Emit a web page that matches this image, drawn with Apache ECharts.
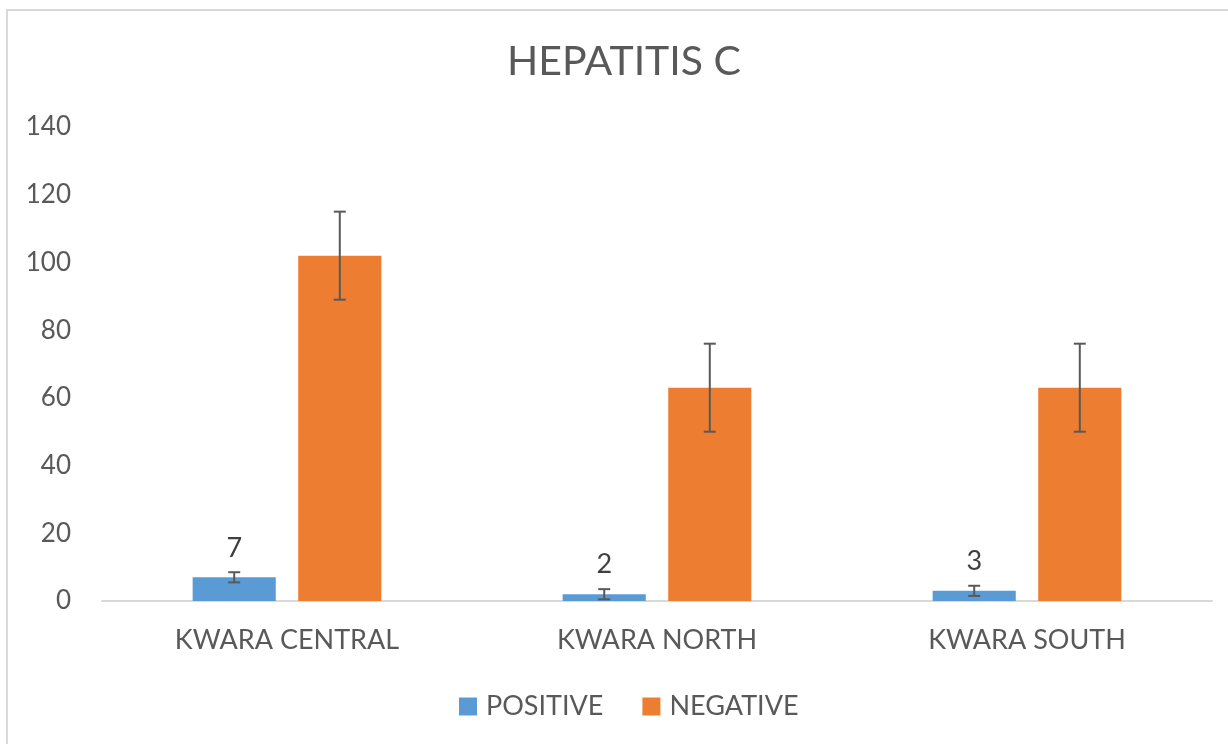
<!DOCTYPE html>
<html>
<head>
<meta charset="utf-8">
<script src="https://cdn.jsdelivr.net/npm/echarts@6/dist/echarts.min.js"></script>
<style>
  html, body { margin: 0; padding: 0; background: #ffffff; }
  #chart { width: 1228px; height: 744px; }
</style>
</head>
<body>
<div id="chart"></div>
<script>
// ---- data ----
const titleText = 'HEPATITIS C';
const categories = ['KWARA CENTRAL', 'KWARA NORTH', 'KWARA SOUTH'];
const seriesNames = ['POSITIVE', 'NEGATIVE'];
const positiveValues = [7, 2, 3];
const negativeValues = [102, 63, 63];
const positiveErrors = [1.5, 1.5, 1.5];
const negativeErrors = [13, 13, 13];
const yTicks = [0, 20, 40, 60, 80, 100, 120, 140];

// ---- style ----
const FONT = 'Lato';
const BLUE = '#5B9BD5';
const ORANGE = '#ED7D31';
const TEXT = '#595959';
const CAT_GAP = 0.49;   // barCategoryGap fraction
const BAR_GAP = 0.27;   // barGap fraction

function errData(values, errs, idx) {
  return values.map((v, i) => [i, v - errs[i], v + errs[i], idx]);
}

function renderErr(params, api) {
  const ci = api.value(0);
  const lo = api.coord([ci, api.value(1)]);
  const hi = api.coord([ci, api.value(2)]);
  const si = api.value(3);
  const band = api.size([1, 0])[0];
  const avail = band * (1 - CAT_GAP);
  const bw = avail / (2 + BAR_GAP);
  const start = -avail / 2;
  const cx = lo[0] + start + si * bw * (1 + BAR_GAP) + bw / 2;
  const cap = 6;
  const style = { stroke: '#595959', lineWidth: 2 };
  return {
    type: 'group',
    children: [
      { type: 'line', shape: { x1: cx, y1: lo[1], x2: cx, y2: hi[1] }, style },
      { type: 'line', shape: { x1: cx - cap, y1: lo[1], x2: cx + cap, y2: lo[1] }, style },
      { type: 'line', shape: { x1: cx - cap, y1: hi[1], x2: cx + cap, y2: hi[1] }, style }
    ]
  };
}

const chart = echarts.init(document.getElementById('chart'), null, { renderer: 'canvas' });
chart.setOption({
  backgroundColor: '#ffffff',
  animation: false,
  graphic: [{
    type: 'rect',
    shape: { x: 7, y: 10, width: 1300, height: 800 },
    style: { fill: 'none', stroke: '#d9d9d9', lineWidth: 2 },
    z: 0
  }],
  title: {
    text: titleText,
    left: 507,
    top: 41,
    padding: 0,
    textStyle: { fontFamily: FONT, fontSize: 41, fontWeight: 'normal', color: TEXT }
  },
  legend: {
    data: seriesNames,
    left: 459,
    top: 693,
    padding: 0,
    itemWidth: 18,
    itemHeight: 18,
    itemGap: 39,
    icon: 'rect',
    textStyle: { fontFamily: FONT, fontSize: 27, color: TEXT, padding: [0, 0, 0, 4] }
  },
  grid: { left: 102, right: 16, top: 127, bottom: 143, containLabel: false },
  xAxis: {
    type: 'category',
    data: categories,
    axisLine: { show: true, lineStyle: { color: '#d9d9d9', width: 2 } },
    axisTick: { show: false },
    axisLabel: { fontFamily: FONT, fontSize: 27, color: TEXT, margin: 26 },
    splitLine: { show: false }
  },
  yAxis: {
    type: 'value',
    min: yTicks[0],
    max: yTicks[yTicks.length - 1],
    interval: yTicks[1] - yTicks[0],
    axisLine: { show: false },
    axisTick: { show: false },
    splitLine: { show: false },
    axisLabel: { fontFamily: FONT, fontSize: 26, color: TEXT, margin: 31 }
  },
  series: [
    {
      name: seriesNames[0],
      type: 'bar',
      data: positiveValues,
      itemStyle: { color: BLUE },
      barGap: (BAR_GAP * 100) + '%',
      barCategoryGap: (CAT_GAP * 100) + '%',
      label: {
        show: true,
        position: 'top',
        distance: 16,
        fontFamily: FONT,
        fontSize: 27,
        color: '#404040'
      },
      z: 2
    },
    {
      name: seriesNames[1],
      type: 'bar',
      data: negativeValues,
      itemStyle: { color: ORANGE },
      barGap: (BAR_GAP * 100) + '%',
      barCategoryGap: (CAT_GAP * 100) + '%',
      z: 2
    },
    {
      name: 'posErr',
      type: 'custom',
      data: errData(positiveValues, positiveErrors, 0),
      renderItem: renderErr,
      encode: { x: 0, y: [1, 2] },
      z: 5,
      silent: true
    },
    {
      name: 'negErr',
      type: 'custom',
      data: errData(negativeValues, negativeErrors, 1),
      renderItem: renderErr,
      encode: { x: 0, y: [1, 2] },
      z: 5,
      silent: true
    }
  ]
});
</script>
</body>
</html>
